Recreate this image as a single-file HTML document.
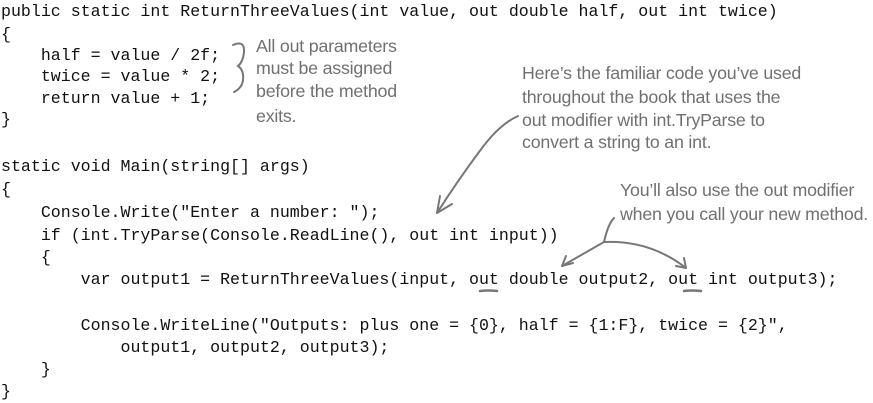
<!DOCTYPE html>
<html><head><meta charset="utf-8"><style>
body{margin:0;background:#fff;width:873px;height:401px;position:relative;overflow:hidden}
.c{position:absolute;left:1px;font-family:"Liberation Mono",monospace;font-size:16.6px;line-height:22px;color:#111;white-space:pre}
.n{position:absolute;font-family:"Liberation Sans",sans-serif;font-size:17.8px;line-height:22px;color:#707070;white-space:pre;letter-spacing:-0.2px}
</style></head><body>
<div class="c" style="top:1px">public static int ReturnThreeValues(int value, out double half, out int twice)</div>
<div class="c" style="top:24px">{</div>
<div class="c" style="top:45px">    half = value / 2f;</div>
<div class="c" style="top:66px">    twice = value * 2;</div>
<div class="c" style="top:88px">    return value + 1;</div>
<div class="c" style="top:109px">}</div>
<div class="c" style="top:156px">static void Main(string[] args)</div>
<div class="c" style="top:179px">{</div>
<div class="c" style="top:202px">    Console.Write("Enter a number: ");</div>
<div class="c" style="top:225px">    if (int.TryParse(Console.ReadLine(), out int input))</div>
<div class="c" style="top:247px">    {</div>
<div class="c" style="top:269px">        var output1 = ReturnThreeValues(input, out double output2, out int output3);</div>
<div class="c" style="top:315px">        Console.WriteLine("Outputs: plus one = {0}, half = {1:F}, twice = {2}",</div>
<div class="c" style="top:337px">            output1, output2, output3);</div>
<div class="c" style="top:359px">    }</div>
<div class="c" style="top:381px">}</div>

<div class="n" style="left:256px;top:35px">All out parameters</div>
<div class="n" style="left:256px;top:57px">must be assigned</div>
<div class="n" style="left:256px;top:80px">before the method</div>
<div class="n" style="left:256px;top:105px">exits.</div>

<div class="n" style="left:522px;top:62px">Here’s the familiar code you’ve used</div>
<div class="n" style="left:522px;top:86px">throughout the book that uses the</div>
<div class="n" style="left:522px;top:109px">out modifier with int.TryParse to</div>
<div class="n" style="left:522px;top:131px">convert a string to an int.</div>

<div class="n" style="left:620px;top:179px">You’ll also use the out modifier</div>
<div class="n" style="left:620px;top:203px">when you call your new method.</div>

<svg width="873" height="401" style="position:absolute;left:0;top:0" fill="none" stroke="#777" stroke-width="2" stroke-linecap="round">
<path d="M233,45 Q245,40 244,52 Q243,62 238,66 Q244,70 243,80 Q242,88 234,92"/>
<path d="M518,116 Q500,124 482,148 Q458,180 437,213"/>
<path d="M437,213 L440,196 M437,213 L452,204"/>
<path d="M614,218 Q608,224 604,242 Q590,250 562,266 M604,242 Q650,240 686,268"/>
<path d="M562,266 L566,256 M562,266 L573,263"/>
<path d="M686,268 L676,266 M686,268 L684,258"/>
<path d="M480,291 Q488,290 497,291" stroke-width="2.5"/>
<path d="M684,291 Q692,290 701,291" stroke-width="2.5"/>
</svg>
</body></html>
